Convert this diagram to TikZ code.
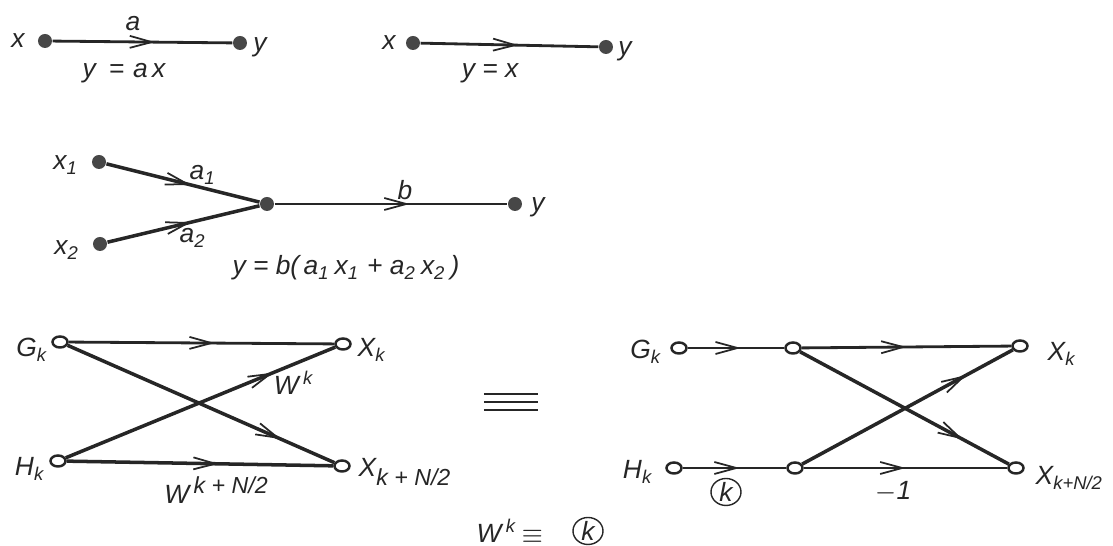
\documentclass[tikz,border=0pt]{standalone}
\usepackage{fontspec}
\setmainfont{Liberation Sans}
\usetikzlibrary{arrows.meta,decorations.markings,shapes.geometric}
\newcommand{\bigidx}[1]{{\fontsize{6.6}{7}\selectfont #1}}
\tikzset{
  fulldot/.style={circle,fill=black!72,inner sep=0pt,minimum size=0.14cm},
  opendot/.style={ellipse,draw=black!85,fill=white,line width=0.7pt,inner sep=0pt,minimum width=0.15cm,minimum height=0.11cm},
  circk/.style={ellipse,draw=black!85,line width=0.4pt,inner sep=0pt,minimum width=0.3cm,minimum height=0.25cm},
  lab/.style={inner sep=0pt,text=black!85,font=\fontsize{7.5}{9}\selectfont\itshape},
  flow/.style={line width=0.8pt,draw=black!85,postaction={decorate},decoration={markings,
      mark=at position #1 with {\arrow[line width=0.5pt]{Straight Barb[length=2.2mm,width=1.2mm]}}}},
  thick flow/.style={flow=#1,line width=1pt}
}
\begin{document}
\begin{tikzpicture}
    \useasboundingbox (0,0) rectangle (11.13,5.46);
    % top pair
    \node[fulldot] (xa) at (0.45,5.05) {};
    \node[fulldot] (ya) at (2.40,5.03) {};
    \draw[flow=0.57] (xa) -- (ya);
    \node[lab] (lxa) at (0.18,5.05) {x};
    \node[lab] (lya) at (2.60,4.99) {y};
    \node[lab] (la) at (1.33,5.22) {a};
    \node[lab] (ea) at (1.24,4.73) {y\enspace=\,\,a\,x};
    \node[fulldot] (xb) at (4.13,5.03) {};
    \node[fulldot] (yb) at (6.06,4.99) {};
    \draw[flow=0.55] (xb) -- (yb);
    \node[lab] (lxb) at (3.89,5.03) {x};
    \node[lab] (lyb) at (6.25,4.95) {y};
    \node[lab] (eb) at (4.90,4.73) {y = x};
    % two inputs
    \node[fulldot] (xc) at (0.99,3.84) {};
    \node[fulldot] (xd) at (1.00,3.02) {};
    \node[fulldot] (mid) at (2.67,3.42) {};
    \node[fulldot] (yc) at (5.15,3.42) {};
    \draw[thick flow=0.55] (xc) -- (mid);
    \draw[thick flow=0.55] (xd) -- (mid);
    \draw[flow=0.58] (mid) -- (yc);
    \node[lab] (lxc) at (0.66,3.81) {x\textsubscript{1}};
    \node[lab] (lxd) at (0.67,2.96) {x\textsubscript{2}};
    \node[lab] (la1) at (2.03,3.71) {a\textsubscript{1}};
    \node[lab] (la2) at (1.93,3.08) {a\textsubscript{2}};
    \node[lab] (lb) at (4.05,3.56) {b};
    \node[lab] (lyc) at (5.38,3.39) {y};
    \node[lab] (ec) at (3.46,2.78) {y = b(\,a\textsubscript{1}\,x\textsubscript{1} + a\textsubscript{2}\,x\textsubscript{2}\,)};
    % left butterfly
    \node[opendot] (gl) at (0.60,2.04) {};
    \node[opendot] (hl) at (0.58,0.85) {};
    \node[opendot] (xl) at (3.43,2.02) {};
    \node[opendot] (zl) at (3.42,0.80) {};
    \draw[flow=0.55] (gl) -- (xl);
    \draw[thick flow=0.80] (gl) -- (zl);
    \draw[thick flow=0.77] (hl) -- (xl);
    \draw[thick flow=0.57] (hl) -- (zl);
    \node[lab] (lgl) at (0.32,1.96) {G\textsubscript{k}};
    \node[lab] (lhl) at (0.30,0.77) {H\textsubscript{k}};
    \node[lab] (lxl) at (3.72,1.96) {X\textsubscript{k}};
    \node[lab,anchor=west] (lzl) at (3.58,0.74) {X\textsubscript{\bigidx{k + N/2}}};
    \node[lab] (wk) at (2.94,1.63) {W\,\textsuperscript{k}};
    \node[lab] (wn) at (2.17,0.56) {W\,\textsuperscript{\bigidx{k + N/2}}};
    % equals
    \coordinate (qa) at (4.84,1.52);
    \coordinate (qb) at (5.38,1.52);
    \coordinate (qc) at (4.84,1.44);
    \coordinate (qd) at (5.38,1.44);
    \coordinate (qe) at (4.84,1.36);
    \coordinate (qf) at (5.38,1.36);
    \draw[line width=0.4pt,black!85] (qa) -- (qb);
    \draw[line width=0.4pt,black!85] (qc) -- (qd);
    \draw[line width=0.4pt,black!85] (qe) -- (qf);
    % right butterfly
    \node[opendot] (gr) at (6.79,1.98) {};
    \node[opendot] (hr) at (6.74,0.78) {};
    \node[opendot] (mg) at (7.93,1.98) {};
    \node[opendot] (mh) at (7.95,0.78) {};
    \node[opendot] (xr) at (10.20,2.00) {};
    \node[opendot] (zr) at (10.16,0.78) {};
    \draw[flow=0.55] (gr) -- (mg);
    \draw[flow=0.55] (hr) -- (mh);
    \draw[flow=0.50] (mg) -- (xr);
    \draw[flow=0.50] (mh) -- (zr);
    \draw[thick flow=0.78] (mg) -- (zr);
    \draw[thick flow=0.78] (mh) -- (xr);
    \node[lab] (lgr) at (6.46,1.94) {G\textsubscript{k}};
    \node[lab] (lhr) at (6.38,0.74) {H\textsubscript{k}};
    \node[lab] (lxr) at (10.62,1.92) {X\textsubscript{k}};
    \node[lab,anchor=west] (lzr) at (10.35,0.68) {X\textsubscript{k+N/2}};
    \node[lab,circk] (kr) at (7.26,0.54) {k};
    \node[lab] (mo) at (8.93,0.54) {$-$1};
    % bottom
    \node[lab] (wb) at (5.10,0.15) {W\,\textsuperscript{k}\,$\equiv$};
    \node[lab,circk] (kb) at (5.88,0.15) {k};
\end{tikzpicture}
\end{document}
